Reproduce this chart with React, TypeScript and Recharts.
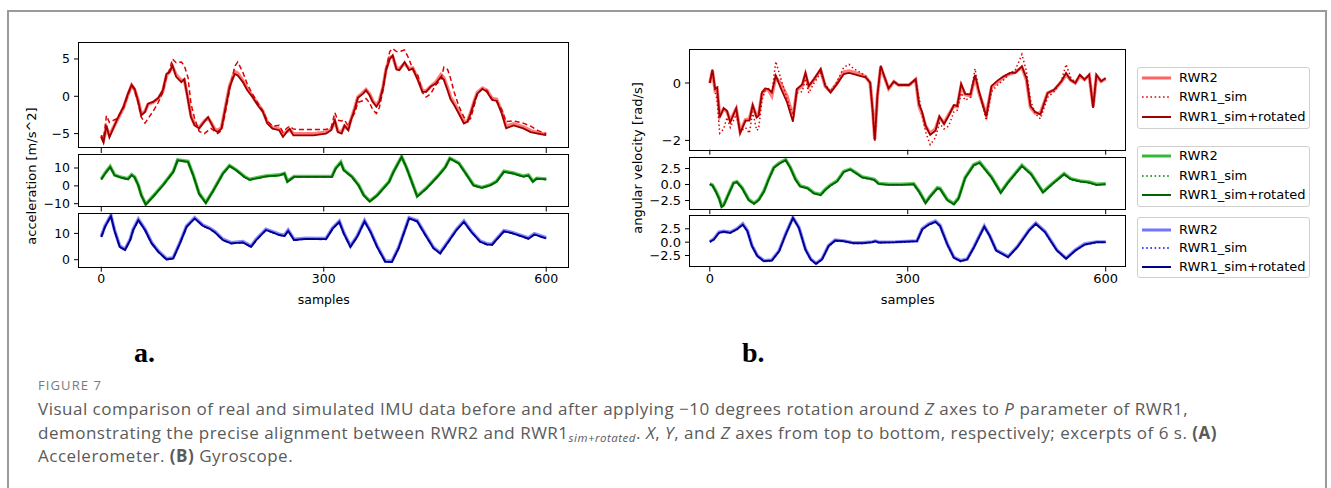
import React from 'react';
import { LineChart, Line, XAxis, YAxis } from 'recharts';

// ---------- Accelerometer (a) ----------
const accXSamples = [0,3,7,11,21,30,36,41,45,50,54,59,63,70,77,83,88,92,96,101,108,112,117,121,126,132,139,144,148,153,157,162,166,173,180,184,191,197,204,211,218,224,231,240,245,250,254,259,268,286,303,310,315,319,324,328,333,337,342,346,353,357,362,366,371,375,380,384,389,393,398,402,409,415,420,427,433,438,444,451,458,462,467,471,476,482,489,494,498,503,507,514,520,527,533,540,546,556,569,579,589,600];
const accXRwr2 = [-5.3,-5.9,-4.2,-5.2,-3.3,-1.5,0.2,1.5,0.9,-0.6,-2.4,-2.0,-1.1,-0.8,-0.3,0.7,2.8,3.3,4.0,2.9,2.1,2.2,-0.3,-2.6,-3.8,-4.2,-3.3,-2.9,-3.5,-4.4,-4.6,-4.2,-2.2,1.4,3.3,3.1,2.1,1.0,0.0,-1.0,-2.0,-3.5,-4.2,-4.4,-5.2,-4.7,-4.5,-5.0,-5.0,-5.0,-4.8,-4.4,-3.4,-4.6,-4.8,-4.0,-4.4,-3.0,-1.5,-0.1,0.5,0.9,0.3,-0.6,-1.2,-0.6,1.3,3.6,5.2,5.3,3.8,3.7,4.4,3.7,3.8,2.3,0.8,0.7,1.3,1.9,2.9,2.5,1.1,-0.1,-0.9,-2.0,-3.4,-3.3,-2.2,-0.6,0.5,1.1,0.8,-0.3,-0.4,-2.0,-4.0,-3.7,-4.1,-4.6,-4.9,-5.1];
const accXSim = [-5.2,-5.8,-2.6,-3.5,-3.0,-1.6,0.2,1.4,0.8,-1.0,-2.8,-3.6,-3.0,-2.0,-0.8,0.5,2.6,3.5,5.0,4.5,4.6,4.1,2.5,-1.0,-3.0,-4.7,-5.0,-4.6,-4.3,-4.7,-5.0,-4.6,-2.8,0.8,4.0,4.6,3.2,1.6,0.3,-0.9,-2.0,-3.3,-4.0,-3.9,-4.8,-4.3,-4.0,-4.4,-4.45,-4.45,-4.45,-4.2,-2.2,-3.2,-3.3,-3.2,-4.0,-3.0,-2.2,-0.8,-0.6,-0.3,-0.9,-1.8,-2.3,-1.5,0.8,3.6,6.0,6.4,6.0,6.0,6.2,5.0,3.6,2.8,0.5,-0.1,0.3,1.5,2.3,3.9,3.6,2.4,0.5,-1.3,-2.8,-3.2,-3.0,-1.2,0.3,1.0,0.8,-0.4,-0.6,-1.8,-3.4,-3.3,-3.6,-4.0,-4.6,-5.0];
const accXRot = [-5.45,-6.2,-3.9,-5.5,-3.2,-1.4,0.35,1.55,1.0,-0.75,-2.55,-2.1,-1.0,-0.75,-0.2,0.8,3.0,3.2,4.15,2.6,1.9,2.3,-0.5,-2.8,-3.9,-4.3,-3.4,-2.8,-3.6,-4.55,-4.8,-4.35,-2.3,1.25,3.0,2.8,1.9,0.8,-0.1,-1.2,-2.1,-3.65,-4.35,-4.55,-5.45,-4.8,-4.35,-5.25,-5.25,-5.25,-5.0,-4.55,-3.2,-4.8,-5.0,-3.9,-4.55,-3.1,-1.65,-0.2,0.35,0.8,0.1,-0.75,-1.4,-0.75,1.25,3.5,5.0,5.5,3.6,3.5,4.6,3.5,3.7,2.15,0.6,0.6,1.3,1.7,2.6,2.2,0.8,-0.4,-1.2,-2.3,-3.65,-3.4,-2.3,-0.75,0.35,1.0,0.6,-0.5,-0.6,-2.3,-4.3,-3.9,-4.3,-4.8,-5.0,-5.2];

const accYSamples = [0,5,12,18,27,36,41,45,50,54,60,70,83,97,103,117,124,132,141,150,164,173,182,193,200,222,240,247,251,260,276,311,316,323,327,338,347,354,362,372,388,394,405,412,426,439,455,464,470,482,493,502,513,524,533,543,556,569,576,582,587,600];
const accYRwr2 = [3.9,7.1,10.9,6.2,4.8,4.0,6.3,5.0,0.5,-5.1,-10.2,-5.7,0.5,8.0,14.6,13.7,6.2,-4.2,-9.3,-3.2,7.1,11.4,9.0,5.3,3.7,5.6,6.2,7.0,2.6,5.3,5.3,5.3,9.9,13.3,9.0,5.3,0.5,-5.1,-8.5,-5.1,2.4,8.0,16.4,9.9,-5.7,-1.0,6.2,10.7,15.5,12.9,6.2,0.5,-0.8,0.5,2.6,8.2,7.2,5.5,6.1,2.6,4.3,3.9];
const accYSim = [3.5,6.7,10.5,5.8,4.5,3.6,5.9,4.7,0.1,-5.5,-10.6,-6.1,0.1,7.6,14.2,13.3,5.8,-4.6,-9.7,-3.6,6.7,11.0,8.6,4.9,3.3,5.2,5.8,6.7,2.2,4.9,4.9,4.9,9.5,12.9,8.6,4.9,0.1,-5.5,-8.9,-5.5,2.0,7.6,16.1,9.5,-6.1,-1.4,5.8,10.3,15.2,12.5,5.8,0.1,-1.2,0.1,2.2,7.8,6.8,5.1,5.7,2.2,3.9,3.5];
const accYRot = [3.6,6.8,10.6,5.9,4.6,3.7,6.0,4.8,0.2,-5.4,-10.5,-6.0,0.2,7.7,14.3,13.4,5.9,-4.5,-9.6,-3.5,6.8,11.1,8.7,5.0,3.4,5.3,5.9,6.8,2.3,5.0,5.0,5.0,9.6,13.0,8.7,5.0,0.2,-5.4,-8.8,-5.4,2.1,7.7,16.2,9.6,-6.0,-1.3,5.9,10.4,15.3,12.6,5.9,0.2,-1.1,0.2,2.3,7.9,6.9,5.2,5.8,2.3,4.0,3.6];

const accZSamples = [0,5,13,18,25,32,39,43,50,59,68,77,88,97,106,115,126,137,146,153,164,175,191,202,209,222,231,240,247,252,260,276,303,312,321,327,336,345,355,363,372,383,392,401,415,426,437,448,457,468,479,489,499,511,520,527,533,543,553,566,576,584,600];
const accZRwr2 = [8.9,12.8,16.9,11.2,5.2,4.0,7.8,11.6,15.4,11.6,6.5,3.3,0.4,0.8,6.5,12.8,16.0,13.2,12.1,10.8,7.8,6.5,6.9,5.2,7.8,11.6,10.7,9.7,9.3,11.3,7.8,8.2,8.1,12.1,14.7,10.3,5.2,9.0,14.9,10.9,5.2,-0.5,-0.5,4.7,16.0,14.9,9.7,4.7,2.7,7.1,11.6,14.7,10.9,7.1,6.1,6.0,7.9,11.1,10.5,9.3,8.3,9.9,8.4];
const accZSim = [8.6,12.4,16.5,10.8,4.8,3.6,7.4,11.2,15.0,11.2,6.1,2.9,0.0,0.4,6.1,12.4,15.6,12.8,11.7,10.4,7.4,6.1,6.5,4.8,7.4,11.2,10.3,9.3,8.9,10.9,7.4,7.8,7.7,11.7,14.3,9.9,4.8,8.6,14.5,10.5,4.8,-0.9,-0.9,4.3,15.6,14.5,9.3,4.3,2.3,6.7,11.2,14.3,10.5,6.7,5.7,5.6,7.5,10.7,10.1,8.9,7.9,9.5,8.0];
const accZRot = [8.7,12.5,16.6,10.9,4.9,3.7,7.5,11.3,15.1,11.3,6.2,3.0,0.1,0.5,6.2,12.5,15.7,12.9,11.8,10.5,7.5,6.2,6.6,4.9,7.5,11.3,10.4,9.4,9.0,11.0,7.5,7.9,7.8,11.8,14.4,10.0,4.9,8.7,14.6,10.6,4.9,-0.8,-0.8,4.4,15.7,14.6,9.4,4.4,2.4,6.8,11.3,14.4,10.6,6.8,5.8,5.7,7.6,10.8,10.2,9.0,8.0,9.6,8.1];

// ---------- Gyroscope (b) ----------
const gyrXSamples = [0,4,8,11,15,21,26,31,40,46,54,60,65,71,74,79,84,89,94,100,107,117,126,132,140,145,150,158,168,175,183,193,203,211,218,226,236,243,247,250,254,259,264,271,279,286,302,312,317,322,327,334,342,348,355,362,370,375,381,387,395,402,408,419,427,437,445,455,463,473,480,486,493,501,512,522,533,540,547,554,561,568,575,581,586,593,600];
const gyrXRwr2 = [0.0,0.42,-0.25,-0.2,-1.15,-0.9,-1.0,-1.3,-0.9,-1.7,-1.28,-1.25,-0.8,-1.15,-1.1,-0.38,-0.22,-0.25,-0.45,0.2,0.0,-0.45,-1.2,-0.25,-0.1,0.3,-0.12,0.12,0.45,-0.12,-0.3,0.0,0.38,0.42,0.38,0.32,0.22,0.0,-0.98,-1.95,-0.45,0.55,0.25,-0.2,0.05,-0.07,-0.07,0.12,-0.8,-1.1,-1.5,-1.75,-1.6,-1.2,-1.4,-1.1,-0.8,-0.82,-0.1,-0.4,-0.45,0.22,-0.35,-1.1,-0.15,0.05,0.2,0.32,0.38,0.55,0.1,-0.85,-1.05,-1.05,-0.35,-0.25,0.05,0.3,0.1,0.0,0.25,0.12,0.27,-0.82,0.25,0.06,0.15];
const gyrXSim = [0.0,0.45,-0.3,-0.6,-1.75,-1.6,-1.2,-1.55,-1.1,-1.7,-1.55,-1.75,-1.0,-1.65,-1.6,-0.6,-0.25,-0.2,-0.35,0.75,0.2,-0.55,-1.1,-0.35,-0.3,0.15,-0.35,0.0,0.35,-0.05,-0.3,0.05,0.55,0.65,0.5,0.4,0.25,0.0,-1.0,-2.0,-0.45,0.6,0.25,-0.2,0.05,-0.07,-0.07,0.1,-0.5,-1.1,-1.7,-2.15,-1.9,-1.4,-1.6,-1.5,-1.0,-0.95,-0.35,-0.6,-0.5,0.5,-0.3,-1.3,-0.3,-0.05,0.1,0.35,0.45,1.0,0.4,-0.6,-1.05,-1.25,-0.5,-0.3,0.1,0.65,0.2,0.0,0.3,0.1,0.3,-0.85,0.3,0.05,0.17];
const gyrXRot = [0.0,0.47,-0.2,-0.15,-1.2,-0.88,-0.97,-1.37,-0.88,-1.74,-1.31,-1.31,-0.77,-1.2,-1.14,-0.33,-0.19,-0.21,-0.33,0.26,-0.15,-0.67,-1.35,-0.21,-0.05,0.35,-0.1,0.14,0.49,-0.1,-0.33,-0.03,0.31,0.35,0.31,0.26,0.2,0.02,-1.02,-2.01,-0.44,0.6,0.26,-0.19,0.05,-0.07,-0.07,0.14,-0.73,-1.02,-1.49,-1.81,-1.66,-1.16,-1.43,-1.14,-0.77,-0.8,-0.03,-0.38,-0.4,0.28,-0.3,-1.17,-0.1,0.1,0.23,0.35,0.35,0.58,0.17,-0.8,-1.0,-1.1,-0.35,-0.23,0.06,0.35,0.1,0.0,0.29,0.12,0.29,-0.87,0.29,0.06,0.17];

const gyrYSamples = [0,4,9,14,18,21,29,36,41,49,59,67,74,82,89,97,105,115,122,130,137,148,158,168,175,183,193,203,213,221,231,241,249,256,271,291,309,317,327,334,345,349,360,370,377,387,400,409,427,441,452,473,487,505,519,537,547,561,575,586,600];
const gyrYRwr2 = [0.1,-0.1,-1.0,-2.1,-3.4,-3.2,-1.3,0.3,0.45,-0.5,-2.35,-2.9,-2.35,-1.0,0.85,2.7,3.35,3.9,2.7,0.85,-0.2,-0.5,-1.3,-1.55,-0.75,-0.05,0.58,2.05,2.42,1.9,1.2,1.0,0.82,0.18,0.05,0.05,0.12,-1.0,-2.8,-1.8,-0.5,-0.6,-2.35,-3.0,-2.1,1.1,3.1,3.5,1.2,-1.2,0.4,3.0,1.7,-1.15,0.15,1.7,0.93,0.57,0.4,0.05,0.12];
const gyrYSim = [0.05,-0.2,-1.15,-2.25,-3.55,-3.3,-1.45,0.15,0.32,-0.65,-2.5,-3.05,-2.5,-1.15,0.7,2.55,3.2,3.75,2.55,0.7,-0.35,-0.65,-1.45,-1.7,-0.9,-0.2,0.44,1.93,2.3,1.76,1.06,0.86,0.7,0.06,-0.08,-0.08,0.02,-1.15,-2.95,-1.95,-0.65,-0.75,-2.5,-3.15,-2.25,0.95,2.95,3.35,1.05,-1.35,0.25,2.85,1.55,-1.3,0.0,1.55,0.78,0.42,0.25,-0.1,0.02];
const gyrYRot = [0.05,-0.16,-1.1,-2.2,-3.5,-3.25,-1.4,0.2,0.37,-0.6,-2.45,-3.0,-2.45,-1.1,0.74,2.6,3.25,3.8,2.6,0.74,-0.3,-0.6,-1.4,-1.65,-0.85,-0.16,0.48,1.97,2.34,1.8,1.1,0.9,0.74,0.1,-0.05,-0.05,0.05,-1.1,-2.9,-1.9,-0.6,-0.7,-2.45,-3.1,-2.2,1.0,3.0,3.4,1.1,-1.3,0.3,2.9,1.6,-1.25,0.05,1.6,0.83,0.47,0.3,-0.05,0.05];

const gyrZSamples = [0,6,14,21,31,41,50,57,64,72,82,94,105,115,126,135,145,153,161,170,180,190,203,218,231,246,251,256,281,314,322,332,342,349,360,370,380,390,400,405,416,424,434,452,466,484,494,508,526,540,554,568,586,600];
const gyrZRwr2 = [0.1,0.6,1.9,2.05,1.85,2.5,3.45,2.2,-0.65,-2.5,-3.46,-3.34,-1.6,1.54,4.6,2.8,-1.3,-3.15,-3.96,-3.15,-0.65,0.4,0.25,-0.12,-0.12,0.05,0.22,0.0,0.05,0.25,2.55,3.45,3.95,3.15,-0.34,-2.84,-3.46,-3.15,-0.96,0.3,3.0,1.3,-1.46,-2.7,-0.84,2.3,3.55,2.0,-1.46,-3.0,-1.46,-0.34,0.05,0.05];
const gyrZSim = [0.02,0.45,1.7,1.9,1.7,2.35,3.25,2.0,-0.8,-2.65,-3.6,-3.5,-1.75,1.4,4.5,2.65,-1.45,-3.3,-4.1,-3.3,-0.8,0.26,0.14,-0.24,-0.24,-0.05,0.14,-0.1,-0.05,0.14,2.35,3.25,3.75,2.95,-0.5,-3.0,-3.6,-3.3,-1.1,0.14,2.85,1.15,-1.6,-2.85,-1.0,2.15,3.4,1.85,-1.6,-3.15,-1.6,-0.5,-0.05,-0.05];
const gyrZRot = [0.06,0.5,1.75,1.95,1.75,2.4,3.3,2.06,-0.75,-2.6,-3.56,-3.44,-1.7,1.44,4.56,2.7,-1.4,-3.25,-4.06,-3.25,-0.75,0.31,0.19,-0.19,-0.19,0.0,0.19,-0.06,0.0,0.19,2.4,3.3,3.8,3.0,-0.44,-2.94,-3.56,-3.25,-1.06,0.19,2.9,1.2,-1.56,-2.8,-0.94,2.2,3.44,1.9,-1.56,-3.1,-1.56,-0.44,0.0,0.0];

const seriesNames = ['RWR2', 'RWR1_sim', 'RWR1_sim+rotated'];
const xTicks = [0, 300, 600];

const FONT = '"DejaVu Sans", Verdana, sans-serif';

type Colors = { a: string; b: string; c: string };
const RED: Colors = { a: '#ff5252', b: '#e00000', c: '#a00000' };
const GREEN: Colors = { a: '#22b022', b: '#008000', c: '#006400' };
const BLUE: Colors = { a: '#6464ff', b: '#0000ff', c: '#00008b' };

function rows(s: number[], a: number[], b: number[], c: number[]) {
  return s.map((x, i) => ({ s: x, rwr2: a[i], sim: b[i], rot: c[i] }));
}

const minus = (t: string) => t.replace('-', '\u2212');
const fmtInt = (v: number) => minus(String(v));
const fmt1 = (v: number) => minus(v.toFixed(1));

type PanelProps = {
  x: number; y: number; w: number; h: number;
  data: any[]; yDomain: [number, number]; yTicks: number[];
  fmt: (v: number) => string; col: Colors; dash: string; showX: boolean; fs: number;
};

function Panel({ x, y, w, h, data, yDomain, yTicks, fmt, col, dash, showX, fs }: PanelProps) {
  const yw = 60;
  const xh = showX ? 52 : 12;
  return (
    <div style={{ position: 'absolute', left: x - yw, top: y }}>
      <LineChart width={yw + w} height={h + xh} data={data} margin={{ top: 0, right: 0, bottom: 0, left: 0 }}>
        <XAxis
          dataKey="s" type="number" domain={[-30, 630]} ticks={xTicks} allowDataOverflow interval={0}
          axisLine={false} tickLine={{ stroke: '#000', strokeWidth: 1 }} tickSize={5} tickMargin={2}
          height={xh}
          tick={{ fill: '#000', fontSize: fs, fontFamily: FONT }}
          tickFormatter={showX ? (v: number) => String(v) : () => ''}
          label={showX ? { value: 'samples', position: 'insideBottom', offset: 14.5, fill: '#000', fontSize: fs, fontFamily: FONT } : undefined}
        />
        <YAxis
          type="number" domain={yDomain} ticks={yTicks} allowDataOverflow interval={0} width={yw}
          axisLine={false} tickLine={{ stroke: '#000', strokeWidth: 1 }} tickSize={5} tickMargin={4}
          tick={{ fill: '#000', fontSize: fs, fontFamily: FONT }} tickFormatter={fmt}
        />
        <Line dataKey="rwr2" stroke={col.a} strokeOpacity={0.75} strokeWidth={3.4} dot={false} isAnimationActive={false} />
        <Line dataKey="sim" stroke={col.b} strokeWidth={1.5} strokeDasharray={dash} dot={false} isAnimationActive={false} />
        <Line dataKey="rot" stroke={col.c} strokeWidth={1.8} dot={false} isAnimationActive={false} />
      </LineChart>
      <div style={{ position: 'absolute', left: yw - 0.8, top: -0.8, width: w + 1.6, height: h + 1.6, border: '1.6px solid #000', boxSizing: 'border-box', pointerEvents: 'none' }} />
    </div>
  );
}

function LegendBox({ top, height, col, rowsY }: { top: number; height: number; col: Colors; rowsY: number[] }) {
  const styles = [
    { stroke: col.a, width: 3, dash: undefined as string | undefined, op: 0.9 },
    { stroke: col.b, width: 1.6, dash: '1.6 2.6', op: 1 },
    { stroke: col.c, width: 2, dash: undefined as string | undefined, op: 1 },
  ];
  return (
    <div style={{ position: 'absolute', left: 1137, top, width: 173, height, border: '1px solid #d0d0d0', borderRadius: 3, boxSizing: 'border-box', background: '#fff' }}>
      {seriesNames.map((n, i) => (
        <div key={n} style={{ position: 'absolute', left: 0, top: rowsY[i] - top - 9, height: 18, width: 172 }}>
          <svg width={32} height={18} style={{ position: 'absolute', left: 3, top: 0 }}>
            <line x1={1} x2={30} y1={9} y2={9} stroke={styles[i].stroke} strokeWidth={styles[i].width} strokeDasharray={styles[i].dash} strokeOpacity={styles[i].op} />
          </svg>
          <span style={{ position: 'absolute', left: 41, top: 0, lineHeight: '18px', fontSize: 13, fontFamily: FONT, color: '#000', whiteSpace: 'nowrap' }}>{n}</span>
        </div>
      ))}
    </div>
  );
}

export default function App() {
  const LX = 78.5, LW = 489.5;
  const RX = 690, RW = 435.5;
  return (
    <div style={{ position: 'absolute', left: 0, top: 0, width: 1331, height: 488, background: '#fff', overflow: 'hidden' }}>
      <div style={{ position: 'absolute', left: 7, top: 10, width: 1320, height: 520, border: '2px solid #9a9a9a', boxSizing: 'border-box' }} />

      {/* (a) accelerometer */}
      <Panel x={LX} y={42.7} w={LW} h={105} data={rows(accXSamples, accXRwr2, accXSim, accXRot)} yDomain={[-6.93, 7.14]} yTicks={[-5, 0, 5]} fmt={fmtInt} col={RED} dash="5 3" showX={false} fs={12.5} />
      <Panel x={LX} y={155} w={LW} h={51.5} data={rows(accYSamples, accYRwr2, accYSim, accYRot)} yDomain={[-11.57, 17.28]} yTicks={[-10, 0, 10]} fmt={fmtInt} col={GREEN} dash="5 3" showX={false} fs={12.5} />
      <Panel x={LX} y={213.3} w={LW} h={53.7} data={rows(accZSamples, accZRwr2, accZSim, accZRot)} yDomain={[-2.66, 17.76]} yTicks={[0, 10]} fmt={fmtInt} col={BLUE} dash="5 3" showX={true} fs={12.5} />
      <div style={{ position: 'absolute', left: 31.4, top: 175.5, transform: 'translate(-50%, -50%) rotate(-90deg)', fontFamily: FONT, fontSize: 13, whiteSpace: 'nowrap', color: '#000' }}>acceleration [m/s^2]</div>

      {/* (b) gyroscope */}
      <Panel x={RX} y={49.3} w={RW} h={100.7} data={rows(gyrXSamples, gyrXRwr2, gyrXSim, gyrXRot)} yDomain={[-2.324, 1.185]} yTicks={[-2, 0]} fmt={fmtInt} col={RED} dash="1.5 2.5" showX={false} fs={13} />
      <Panel x={RX} y={157.5} w={RW} h={51.2} data={rows(gyrYSamples, gyrYRwr2, gyrYSim, gyrYRot)} yDomain={[-3.86, 4.14]} yTicks={[-2.5, 0, 2.5]} fmt={fmt1} col={GREEN} dash="1.5 2.5" showX={false} fs={13} />
      <Panel x={RX} y={215.5} w={RW} h={50.5} data={rows(gyrZSamples, gyrZRwr2, gyrZSim, gyrZRot)} yDomain={[-4.56, 4.9]} yTicks={[-2.5, 0, 2.5]} fmt={fmt1} col={BLUE} dash="1.5 2.5" showX={true} fs={13} />
      <div style={{ position: 'absolute', left: 637.3, top: 157.6, transform: 'translate(-50%, -50%) rotate(-90deg)', fontFamily: FONT, fontSize: 13, whiteSpace: 'nowrap', color: '#000' }}>angular velocity [rad/s]</div>

      <LegendBox top={66.7} height={62} col={RED} rowsY={[77.3, 96.3, 115.7]} />
      <LegendBox top={145.7} height={61.3} col={GREEN} rowsY={[155, 174.7, 194]} />
      <LegendBox top={216.7} height={61.6} col={BLUE} rowsY={[228.7, 247, 266.3]} />

      {/* panel letters */}
      <div style={{ position: 'absolute', left: 134, top: 338.6, fontFamily: '"Liberation Serif", serif', fontWeight: 'bold', fontSize: 28, lineHeight: '28px', color: '#000' }}>a.</div>
      <div style={{ position: 'absolute', left: 742, top: 338.6, fontFamily: '"Liberation Serif", serif', fontWeight: 'bold', fontSize: 28, lineHeight: '28px', color: '#000' }}>b.</div>

      {/* caption */}
      <div style={{ position: 'absolute', left: 38, top: 376, fontFamily: '"Open Sans", sans-serif', fontSize: 13, lineHeight: '18px', letterSpacing: 1.1, color: '#7a7a7a', whiteSpace: 'nowrap' }}>FIGURE 7</div>
      <div style={{ position: 'absolute', left: 38, top: 397, fontFamily: '"Open Sans", sans-serif', fontSize: 17, lineHeight: '23.5px', letterSpacing: 0.5, color: '#5a5a5a', whiteSpace: 'nowrap' }}>
        <div>Visual comparison of real and simulated IMU data before and after applying {'\u2212'}10 degrees rotation around <i>Z</i> axes to <i>P</i> parameter of RWR1,</div>
        <div>demonstrating the precise alignment between RWR2 and RWR1<sub style={{ fontSize: 11.5, fontStyle: 'italic', verticalAlign: -3, lineHeight: 0 }}>sim+rotated</sub>. <i>X</i>, <i>Y</i>, and <i>Z</i> axes from top to bottom, respectively; excerpts of 6 s. <b>(A)</b></div>
        <div>Accelerometer. <b>(B)</b> Gyroscope.</div>
      </div>
    </div>
  );
}
